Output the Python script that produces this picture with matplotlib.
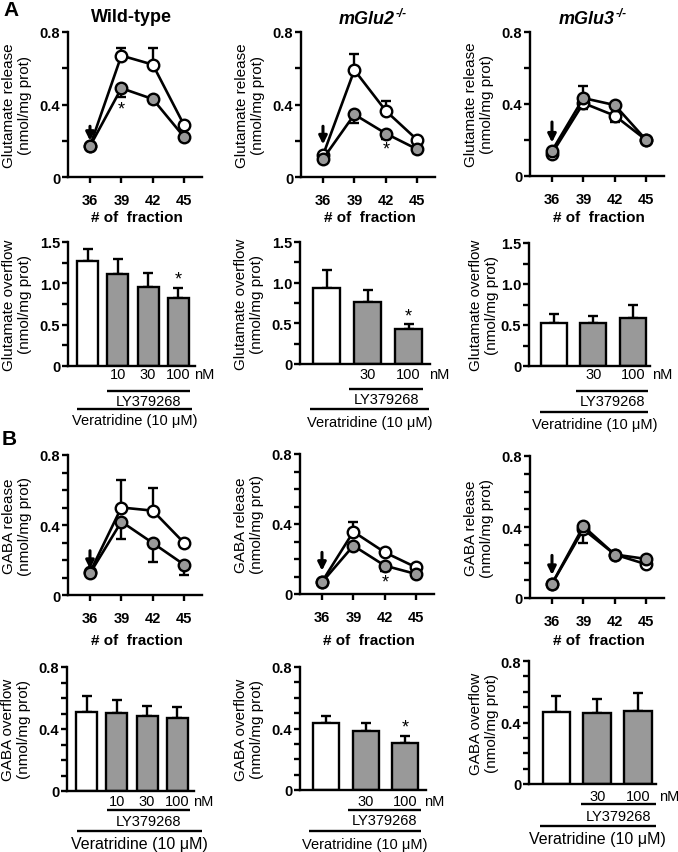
import matplotlib
matplotlib.use("Agg")
import matplotlib.pyplot as plt
from matplotlib.transforms import offset_copy

W, H = 678, 853
plt.rcParams['font.family'] = ['Liberation Sans', 'DejaVu Sans']

GRAY = '#999999'
LW = 1.7

fractions = [36, 39, 42, 45]

# glutamate release per fraction: vehicle (white) / LY379268 (gray)
# errors: positive = drawn upward, negative = drawn downward
glu_wt_veh = [0.17, 0.67, 0.62, 0.285]
glu_wt_veh_err = [0, 0.04, 0.09, 0.015]
glu_wt_ly = [0.17, 0.49, 0.43, 0.22]
glu_wt_ly_err = [0, -0.05, -0.02, -0.015]

glu_m2_veh = [0.12, 0.59, 0.365, 0.205]
glu_m2_veh_err = [0, 0.09, 0.055, 0.015]
glu_m2_ly = [0.10, 0.345, 0.24, 0.153]
glu_m2_ly_err = [0, -0.045, -0.03, -0.02]

glu_m3_veh = [0.125, 0.405, 0.335, 0.20]
glu_m3_veh_err = [0, -0.035, -0.035, -0.01]
glu_m3_ly = [0.14, 0.433, 0.394, 0.20]
glu_m3_ly_err = [0, 0.065, 0.01, 0.01]

# GABA release per fraction
gaba_wt_veh = [0.13, 0.50, 0.482, 0.297]
gaba_wt_veh_err = [0, 0.16, 0.13, 0.02]
gaba_wt_ly = [0.124, 0.419, 0.297, 0.173]
gaba_wt_ly_err = [0, -0.10, -0.11, -0.06]

gaba_m2_veh = [0.07, 0.356, 0.238, 0.152]
gaba_m2_veh_err = [0, 0.055, 0.02, 0.01]
gaba_m2_ly = [0.067, 0.276, 0.162, 0.114]
gaba_m2_ly_err = [0, -0.02, -0.03, -0.01]

gaba_m3_veh = [0.08, 0.387, 0.245, 0.19]
gaba_m3_veh_err = [0, -0.075, -0.01, -0.01]
gaba_m3_ly = [0.08, 0.404, 0.245, 0.22]
gaba_m3_ly_err = [0, 0.01, 0.01, 0.01]

# overflow bars (first bar = veratridine alone)
glu_ovf_wt = [1.27, 1.11, 0.96, 0.82]
glu_ovf_wt_err = [0.14, 0.18, 0.17, 0.12]
glu_ovf_m2 = [0.94, 0.76, 0.43]
glu_ovf_m2_err = [0.21, 0.15, 0.06]
glu_ovf_m3 = [0.52, 0.53, 0.59]
glu_ovf_m3_err = [0.11, 0.08, 0.16]

gaba_ovf_wt = [0.512, 0.506, 0.486, 0.469]
gaba_ovf_wt_err = [0.10, 0.082, 0.064, 0.076]
gaba_ovf_m2 = [0.434, 0.381, 0.303]
gaba_ovf_m2_err = [0.05, 0.053, 0.05]
gaba_ovf_m3 = [0.471, 0.46, 0.476]
gaba_ovf_m3_err = [0.102, 0.091, 0.119]

conc_wt = ['10', '30', '100']
conc_ko = ['30', '100']

fig = plt.figure(figsize=(W / 100, H / 100), dpi=100)


def px_axes(l, t, r, b):
    return fig.add_axes([l / W, 1 - b / H, (r - l) / W, (b - t) / H])


def style(ax):
    for s in ['top', 'right']:
        ax.spines[s].set_visible(False)
    for s in ['left', 'bottom']:
        ax.spines[s].set_linewidth(LW)
    ax.tick_params(which='both', width=LW, length=4.5, labelsize=10.5, pad=1)


def bold_ticks(ax):
    for lab in ax.get_xticklabels() + ax.get_yticklabels():
        lab.set_fontweight('bold')


def ylabel(ax, box, text, dx=51):
    l, t, r, b = box
    fig.text((l - dx) / W, 1 - (t + b) / 2 / H, text, rotation=90, ha='center',
             va='center', multialignment='center', fontsize=11, linespacing=1.1)


def below(ax, x, off, s, **kw):
    tr = offset_copy(ax.get_xaxis_transform(), fig=fig, y=-off, units='dots')
    ax.text(x, 0, s, transform=tr, ha='center', va='center', clip_on=False, **kw)


def hline_below(ax, x0, x1, off):
    tr = offset_copy(ax.get_xaxis_transform(), fig=fig, y=-off, units='dots')
    ax.plot([x0, x1], [0, 0], transform=tr, color='black', lw=LW,
            clip_on=False, solid_capstyle='butt')


def split_err(e):
    return [max(-v, 0) for v in e], [max(v, 0) for v in e]


def line_panel(box, veh, veh_err, ly, ly_err, arrow, ytop, minor, ylab, frac_off, star=None):
    ax = px_axes(*box)
    style(ax)
    for y, e, fc in [(veh, veh_err, 'white'), (ly, ly_err, GRAY)]:
        ax.errorbar(fractions, y, yerr=split_err(e), fmt='none', ecolor='black',
                    elinewidth=LW, capsize=3.5, capthick=LW, zorder=2)
        ax.plot(fractions, y, '-o', color='black', lw=1.9, ms=8.3, mfc=fc,
                mec='black', mew=1.7, zorder=3, clip_on=False)
    ax.annotate('', xy=(36, arrow[1]), xytext=(36, arrow[0]),
                arrowprops=dict(arrowstyle='-|>', color='black', lw=2.2,
                                mutation_scale=12, shrinkA=0, shrinkB=0))
    if star is not None:
        ax.text(star[0], star[1], '*', ha='center', va='center', fontsize=13)
    ax.set_xlim(33.9, 46.7)
    ax.set_ylim(0, ytop)
    ax.set_xticks(fractions)
    ax.set_yticks([0, 0.4, 0.8])
    ax.set_yticklabels(['0', '0.4', '0.8'])
    ax.set_yticks(minor, minor=True)
    ax.tick_params(axis='x', pad=7)
    bold_ticks(ax)
    below(ax, 40.5, frac_off, '# of  fraction', fontsize=11, fontweight='bold')
    ylabel(ax, box, ylab)
    return ax


def bar_panel(box, vals, errs, xlim, width, yticks, ylabs, minor, ylim, concs,
              offs, ly_x, ver_x, ver_fs, ylab, nm_dx=0.75, star=None, ydx=51):
    ax = px_axes(*box)
    style(ax)
    xs = list(range(len(vals)))
    ax.errorbar(xs, vals, yerr=[[0] * len(vals), errs], fmt='none', ecolor='black',
                elinewidth=LW, capsize=3.5, capthick=LW, zorder=1)
    ax.bar(xs, vals, width=width, color=['white'] + [GRAY] * (len(vals) - 1),
           edgecolor='black', linewidth=LW, zorder=2)
    if star is not None:
        ax.text(xs[-1], star, '*', ha='center', va='center', fontsize=13)
    ax.set_xlim(*xlim)
    ax.set_ylim(*ylim)
    ax.set_xticks([])
    ax.set_yticks(yticks)
    ax.set_yticklabels(ylabs)
    ax.set_yticks(minor, minor=True)
    bold_ticks(ax)
    o_conc, o_ly, o_lyt, o_ver, o_vert = offs
    for x, c in zip(xs[1:], concs):
        below(ax, x, o_conc, c, fontsize=10.5)
    below(ax, xs[-1] + nm_dx, o_conc, 'nM', fontsize=10.5)
    hline_below(ax, ly_x[0], ly_x[1], o_ly)
    below(ax, (ly_x[0] + ly_x[1]) / 2, o_lyt, 'LY379268', fontsize=10.5)
    hline_below(ax, ver_x[0], ver_x[1], o_ver)
    below(ax, (ver_x[0] + ver_x[1]) / 2, o_vert, 'Veratridine (10 \u03bcM)', fontsize=ver_fs)
    ylabel(ax, box, ylab, ydx)
    return ax


glu_minor = [0.2, 0.6]
gaba_minor = [0.1, 0.2, 0.3, 0.5, 0.6, 0.7]
ovf_glu_minor = [0.25, 0.75, 1.25]
ovf_gaba_minor = [0.1, 0.2, 0.3, 0.5, 0.6, 0.7]
glu_lab = 'Glutamate release\n(nmol/mg prot)'
gaba_lab = 'GABA release\n(nmol/mg prot)'
glu_ovf_lab = 'Glutamate overflow\n(nmol/mg prot)'
gaba_ovf_lab = 'GABA overflow\n(nmol/mg prot)'

# row 1: glutamate release time course
line_panel((68, 33, 202, 178), glu_wt_veh, glu_wt_veh_err, glu_wt_ly, glu_wt_ly_err,
           (0.28, 0.2), 0.8, glu_minor, glu_lab, 40, star=(39, 0.375))
line_panel((301, 33, 435, 178), glu_m2_veh, glu_m2_veh_err, glu_m2_ly, glu_m2_ly_err,
           (0.28, 0.18), 0.8, glu_minor, glu_lab, 40, star=(42, 0.155))
line_panel((530, 33, 664, 177), glu_m3_veh, glu_m3_veh_err, glu_m3_ly, glu_m3_ly_err,
           (0.3, 0.186), 0.8, glu_minor, glu_lab, 41)

# row 2: glutamate overflow
bar_panel((68, 243, 195, 367), glu_ovf_wt, glu_ovf_wt_err, (-0.65, 3.55), 0.7,
          [0, 0.5, 1.0, 1.5], ['0', '0.5', '1.0', '1.5'], ovf_glu_minor, (0, 1.5),
          conc_wt, (8, 25, 35, 43, 54), (0.64, 3.39), (-0.35, 3.45), 10.5, glu_ovf_lab,
          nm_dx=0.85, star=1.05)
bar_panel((300, 243, 430, 365), glu_ovf_m2, glu_ovf_m2_err, (-0.65, 2.52), 0.66,
          [0, 0.5, 1.0, 1.5], ['0', '0.5', '1.0', '1.5'], ovf_glu_minor, (0, 1.5),
          conc_ko, (10, 25, 35, 45, 58), (0.55, 2.35), (-0.4, 2.5), 10.5, glu_ovf_lab,
          star=0.59)
bar_panel((529, 244, 650, 367), glu_ovf_m3, glu_ovf_m3_err, (-0.64, 2.44), 0.66,
          [0, 0.5, 1.0, 1.5], ['0', '0.5', '1.0', '1.5'], ovf_glu_minor, (0, 1.5),
          conc_ko, (8, 25, 35, 46, 58), (0.55, 2.4), (-0.35, 2.4), 10.5, glu_ovf_lab,
          ydx=45)

# row 3: GABA release time course
line_panel((68, 456, 202, 596), gaba_wt_veh, gaba_wt_veh_err, gaba_wt_ly, gaba_wt_ly_err,
           (0.253, 0.149), 0.8, gaba_minor, gaba_lab, 45)
line_panel((300, 455, 434, 595), gaba_m2_veh, gaba_m2_veh_err, gaba_m2_ly, gaba_m2_ly_err,
           (0.238, 0.133), 0.8, gaba_minor, gaba_lab, 46, star=(42, 0.07))
line_panel((530, 457, 664, 599), gaba_m3_veh, gaba_m3_veh_err, gaba_m3_ly, gaba_m3_ly_err,
           (0.24, 0.13), 0.8, gaba_minor, gaba_lab, 42)

# row 4: GABA overflow
bar_panel((67, 668, 194, 792), gaba_ovf_wt, gaba_ovf_wt_err, (-0.65, 3.55), 0.7,
          [0, 0.4, 0.8], ['0', '0.4', '0.8'], ovf_gaba_minor, (0, 0.8),
          conc_wt, (10, 19, 30, 40, 53), (0.67, 3.42), (-0.32, 3.8), 11.5, gaba_ovf_lab,
          nm_dx=0.85)
bar_panel((300, 668, 426, 791), gaba_ovf_m2, gaba_ovf_m2_err, (-0.67, 2.53), 0.66,
          [0, 0.4, 0.8], ['0', '0.4', '0.8'], ovf_gaba_minor, (0, 0.8),
          conc_ko, (11, 20, 30, 41, 54), (0.55, 2.4), (-0.45, 2.4), 10.5, gaba_ovf_lab,
          star=0.41)
bar_panel((529, 662, 656, 785), gaba_ovf_m3, gaba_ovf_m3_err, (-0.67, 2.43), 0.68,
          [0, 0.4, 0.8], ['0', '0.4', '0.8'], ovf_gaba_minor, (0, 0.8),
          conc_ko, (12, 20, 32, 42, 55), (0.6, 2.42), (-0.4, 2.42), 11.5, gaba_ovf_lab,
          ydx=45)

# titles and panel letters
fig.text(131 / W, 1 - 18 / H, 'Wild-type', ha='center', va='center',
         fontsize=13, fontweight='bold')
for xr, name in [(395, 'mGlu2'), (615, 'mGlu3')]:
    fig.text(xr / W, 1 - 20 / H, name, ha='right', va='center', fontsize=13,
             fontweight='bold', style='italic')
    fig.text((xr + 1) / W, 1 - 14 / H, '-/-', ha='left', va='center', fontsize=8.5,
             fontweight='bold', style='italic')
fig.text(3 / W, 1 - 11 / H, 'A', ha='left', va='center', fontsize=15, fontweight='bold')
fig.text(2 / W, 1 - 440 / H, 'B', ha='left', va='center', fontsize=15, fontweight='bold')

fig.savefig('out.png', dpi=100)
